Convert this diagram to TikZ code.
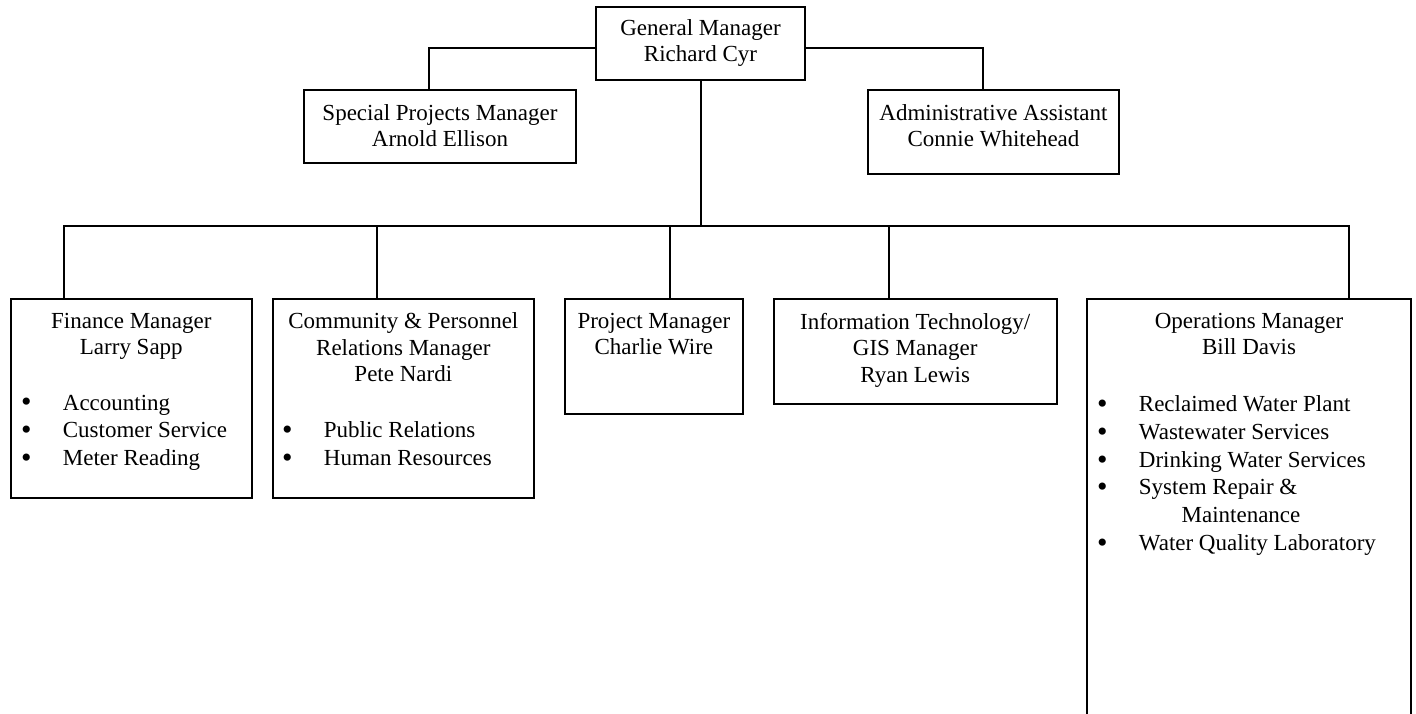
\documentclass[tikz,border=0pt]{standalone}
\usepackage{fontspec}
\setmainfont{Liberation Serif}
\usetikzlibrary{positioning}
\newcommand\bul{\makebox[20.5pt][l]{\hspace*{-0.4pt}\smash{\raisebox{-0.9pt}{\scalebox{1.3}{\textbullet}}}}}

\begin{document}
\begin{tikzpicture}[x=0.5pt,y=-0.5pt,line width=0.9pt,
box/.style={draw,rectangle,inner sep=0,outer sep=0,anchor=north west},
title/.style={align=center,inner sep=0,font=\fontsize{11.5}{13.25}\selectfont},
duties/.style={align=left,inner sep=0,anchor=north west,font=\fontsize{11.5}{13.85}\selectfont}]
\clip(0,0)rectangle(1416,713);
\node[box,minimum width=104.5pt,minimum height=36.5pt](gm) at (596,7){};
\node[title,below=5.65pt of gm.north](gm text){General Manager\\Richard Cyr};
\node[box,minimum width=136pt,minimum height=36.5pt](sp) at (304,90){};
\node[title,below=6.65pt of sp.north](sp text){Special Projects Manager\\Arnold Ellison};
\node[box,minimum width=125.5pt,minimum height=42pt](aa) at (868,90){};
\node[title,below=6.65pt of aa.north](aa text){Administrative Assistant\\Connie Whitehead};
\node[box,minimum width=120.35pt,minimum height=99.35pt](fm) at (11,299){};
\node[title,below=6.5pt of fm.north](fm text){Finance Manager\\Larry Sapp};
\node[duties,below right=47.5pt and 5pt of fm.north west](fm list){\bul Accounting\\\bul Customer Service\\\bul Meter Reading};
\node[box,minimum width=130.65pt,minimum height=99.35pt,right=10.5pt of fm](cp){};
\node[title,below=6.5pt of cp.north](cp text){Community \& Personnel\\Relations Manager\\Pete Nardi};
\node[duties,below right=61pt and 4.65pt of cp.north west](cp list){\bul Public Relations\\\bul Human Resources};
\node[box,minimum width=88.85pt,minimum height=57.5pt,right=15.5pt of cp.north east,anchor=north west](pm){};
\node[title,below=6.5pt of pm.north](pm text){Project Manager\\Charlie Wire};
\node[box,minimum width=141.5pt,minimum height=52.5pt,right=15.5pt of pm.north east,anchor=north west](it){};
\node[title,below=6.5pt of it.north](it text){Information Technology/\\GIS Manager\\Ryan Lewis};
\node[box,minimum width=162pt,minimum height=210pt,right=15.15pt of it.north east,anchor=north west](om){};
\node[title,below=6.5pt of om.north](om text){Operations Manager\\Bill Davis};
\node[duties,below right=48pt and 5pt of om.north west](om list){\bul Reclaimed Water Plant\\\bul Wastewater Services\\\bul Drinking Water Services\\\bul System Repair \&\\\hspace*{41.85pt}Maintenance\\\bul Water Quality Laboratory};
\coordinate[below=72.85pt of gm.south,xshift=0.25pt](bus);
\draw([yshift=-2.25pt]gm.west)-|([xshift=-5.5pt]sp.north);
\draw([yshift=-2.25pt]gm.east)-|([xshift=-5.25pt]aa.north);
\draw([xshift=0.25pt]gm.south)--(bus);
\draw(bus)-|([xshift=-33.8pt]fm.north);
\draw(bus)-|([xshift=-13.3pt]cp.north);
\draw(bus)-|([xshift=7.9pt]pm.north);
\draw(bus)-|([xshift=-13.1pt]it.north);
\draw(bus)-|([xshift=50pt]om.north);
\end{tikzpicture}
\end{document}
